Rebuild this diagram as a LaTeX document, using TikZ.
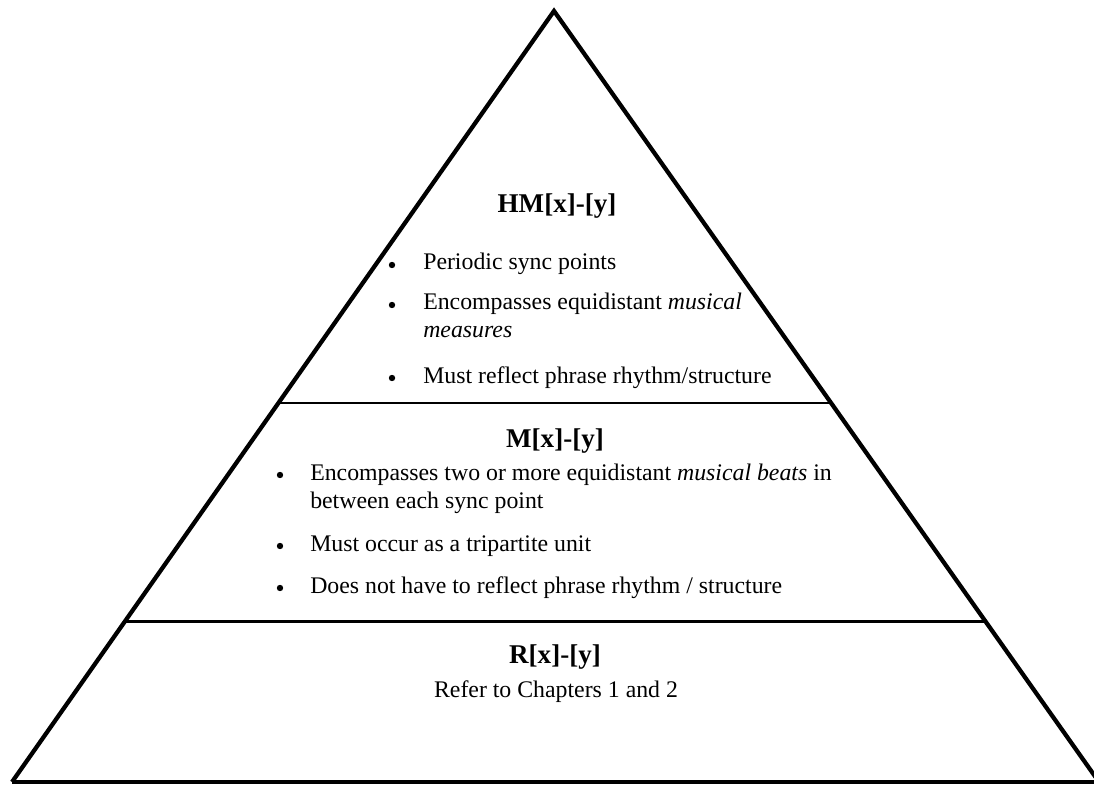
\documentclass[tikz,border=0pt]{standalone}
\usepackage{fontspec}
\setmainfont{Liberation Serif}
\usetikzlibrary{calc}
\begin{document}
\begin{tikzpicture}[x=0.75pt,y=-0.75pt,
  side/.style={line width=3.2pt,line join=miter},
  divider/.style={line width=2pt},
  head/.style={anchor=base,inner sep=0pt,font=\fontsize{20.3}{24}\selectfont\bfseries},
  body/.style={anchor=base west,inner sep=0pt,font=\fontsize{17.85}{22}\selectfont},
  cbody/.style={anchor=base,inner sep=0pt,font=\fontsize{17.85}{22}\selectfont},
  dot/.style={circle,fill=black,inner sep=0pt,minimum size=4.8pt}]
\useasboundingbox (0,0) rectangle (1094,787);
\clip (0,0) rectangle (1094,787);
\coordinate (A) at (554,11);
\coordinate (BL) at (12,782);
\coordinate (BR) at (1099,782);
\draw[side] (BL) -- (A) -- (BR);
\draw[line width=3.6pt] (BL) -- (BR);
% dividers
\coordinate (D1L) at ($(BL)!0.4916!(A)$);
\coordinate (D1R) at ($(BR)!0.4916!(A)$);
\coordinate (D2L) at ($(BL)!0.2083!(A)$);
\coordinate (D2R) at ($(BR)!0.2083!(A)$);
\draw[divider] (D1L) -- (D1R);
\draw[divider] (D2L) -- (D2R);
% HM section
\node[head] (hm) at (557,213) {HM[x]-[y]};
\node[dot] (b1) at (392,265) {};
\node[body] (t1) at (423,270) {Periodic sync points};
\node[dot] (b2) at (392,305) {};
\node[body] (t2) at (423,310) {Encompasses equidistant \textit{musical}};
\node[body] (t2b) at (423,338) {\textit{measures}};
\node[dot] (b3) at (392,378) {};
\node[body] (t3) at (423,383) {Must reflect phrase rhythm/structure};
% M section
\node[head] (m) at (555,447) {M[x]-[y]};
\node[dot] (c1) at (280,475) {};
\node[body] (u1) at (310,480) {Encompasses two or more equidistant \textit{musical beats} in};
\node[body] (u1b) at (310,508) {between each sync point};
\node[dot] (c2) at (280,546) {};
\node[body] (u2) at (310,551) {Must occur as a tripartite unit};
\node[dot] (c3) at (280,588) {};
\node[body] (u3) at (310,593) {Does not have to reflect phrase rhythm / structure};
% R section
\node[head] (r) at (555,663) {R[x]-[y]};
\node[cbody] (rt) at (556,697) {Refer to Chapters 1 and 2};
\end{tikzpicture}
\end{document}
